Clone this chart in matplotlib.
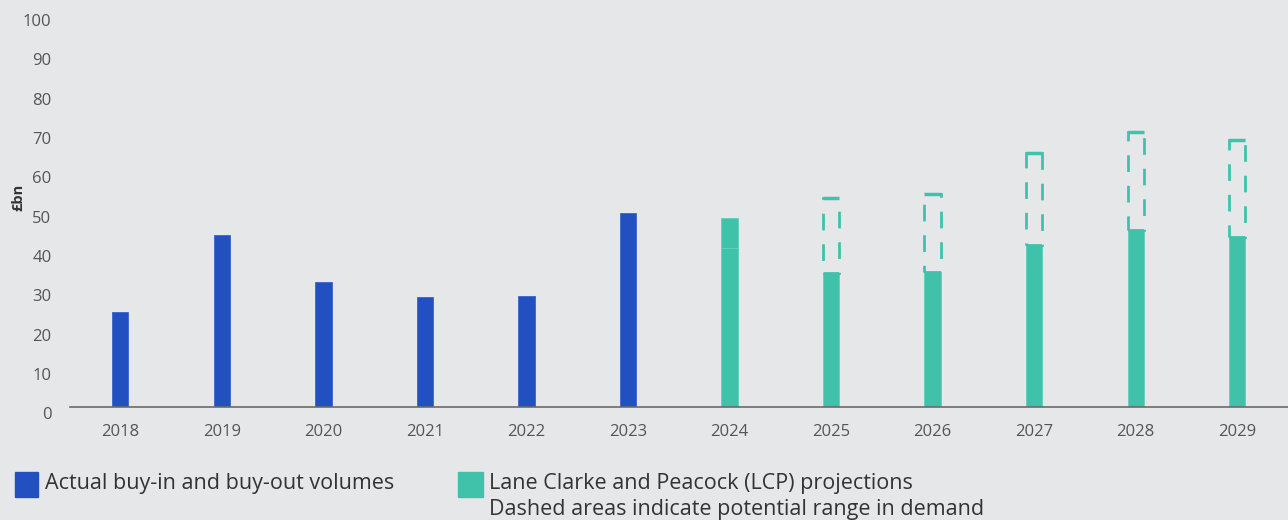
import numpy as np
import matplotlib.pyplot as plt
import matplotlib.transforms as mtransforms
from matplotlib.patches import Rectangle

plt.rcParams['font.family'] = ['Open Sans', 'DejaVu Sans']

# data
years = ["2018", "2019", "2020", "2021", "2022", "2023",
         "2024", "2025", "2026", "2027", "2028", "2029"]
actual = [24.2, 43.9, 31.8, 28.0, 28.2, 49.4]
lcp_base = [40.4, 34.2, 34.4, 41.2, 45.0, 43.3]
lcp_top = [48.2, 34.2, 34.4, 41.2, 45.0, 43.3]
lcp_high = [None, 53.1, 54.2, 64.7, 70.0, 67.9]

blue = "#2350c0"
teal = "#40c2aa"
bg = "#e6e7e9"

fig = plt.figure(figsize=(12.88, 5.2), dpi=100, facecolor=bg)
ax = fig.add_axes([0.054, 0.217, 0.946, 0.756], facecolor=bg)

x = np.arange(len(years))
w = 0.16

ax.bar(x[:6], actual, width=w, color=blue, edgecolor="#3a63cc", linewidth=0.6)

xp = x[6:]
ax.bar(xp, lcp_base, width=w, color=teal, edgecolor="#62d0bc", linewidth=0.6)
extra = [t - b for t, b in zip(lcp_top, lcp_base)]
ax.bar(xp, extra, bottom=lcp_base, width=w, color=teal, edgecolor="#62d0bc", linewidth=0.6)

# dashed ranges
for xi, lo, hi in zip(xp, lcp_top, lcp_high):
    if hi is None:
        continue
    ax.bar(xi, hi - lo, bottom=lo, width=w, fill=False, edgecolor=teal,
           linewidth=2, linestyle=(0, (6, 5)))
    ax.plot([xi - w / 2, xi + w / 2], [hi, hi], color=teal, lw=2.5, solid_capstyle="butt")

ax.set_xlim(-0.5, 11.5)
ax.set_ylim(0, 100)
ax.set_yticks(np.arange(0, 101, 10))
ax.set_xticks(x)
ax.set_xticklabels(years)

for s in ["top", "right", "left"]:
    ax.spines[s].set_visible(False)
ax.spines["bottom"].set_color("#6b6b6b")
ax.spines["bottom"].set_linewidth(1.2)

ax.tick_params(axis="both", length=0, labelsize=12, labelcolor="#555555")
ax.tick_params(axis="x", pad=12)
ax.tick_params(axis="y", pad=13)

# y labels sit slightly below their value
offset = mtransforms.ScaledTranslation(0, -6 / 100, fig.dpi_scale_trans)
for lbl in ax.get_yticklabels():
    lbl.set_transform(lbl.get_transform() + offset)

fig.text(0.014, 0.62, "£bn", rotation=90, fontsize=10.5, fontweight="bold",
         color="#333333", ha="center", va="center")

# legend
fs = 15.5
fig.patches.append(Rectangle((15 / 1288, 1 - 497 / 520), 23 / 1288, 25 / 520,
                             transform=fig.transFigure, color=blue))
fig.text(45 / 1288, 1 - 484 / 520, "Actual buy-in and buy-out volumes",
         fontsize=fs, color="#333333", va="center")
fig.patches.append(Rectangle((458 / 1288, 1 - 497 / 520), 25 / 1288, 25 / 520,
                             transform=fig.transFigure, color=teal))
fig.text(489 / 1288, 1 - 484 / 520, "Lane Clarke and Peacock (LCP) projections",
         fontsize=fs, color="#333333", va="center")
fig.text(489 / 1288, 1 - 509 / 520, "Dashed areas indicate potential range in demand",
         fontsize=fs, color="#333333", va="center")

fig.savefig("out.png", dpi=100, facecolor=bg)
